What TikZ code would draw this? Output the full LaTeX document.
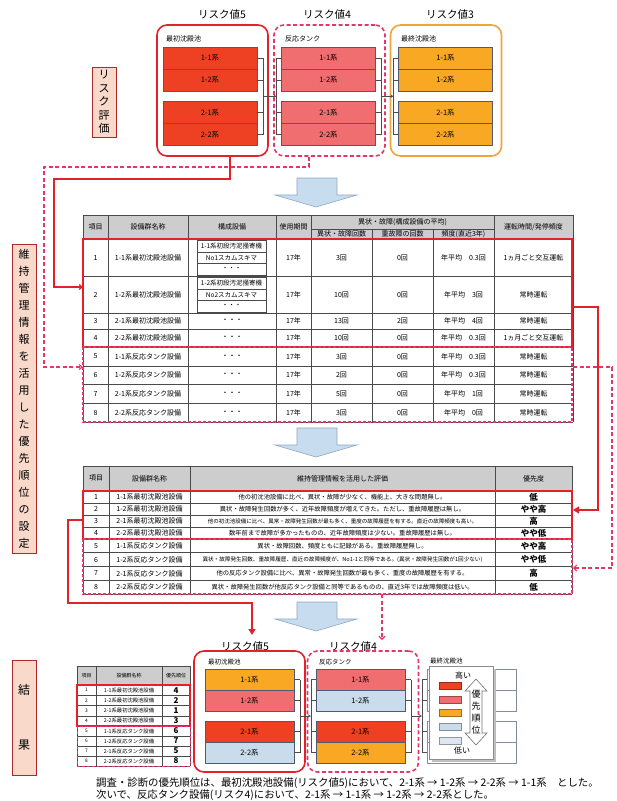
\documentclass[tikz,border=0pt]{standalone}
\usepackage{fontspec}
\setmainfont{Noto Sans CJK JP}
\usepackage{tikz}
\usetikzlibrary{arrows.meta,positioning,calc}

\definecolor{riskred}{HTML}{EE4123}
\definecolor{risksalmon}{HTML}{F06D70}
\definecolor{riskorange}{HTML}{F8A823}
\definecolor{risklblue}{HTML}{C8DCEC}
\definecolor{riskpale}{HTML}{DEE7F1}
\definecolor{markred}{HTML}{E3212B}
\definecolor{markpink}{HTML}{E5366A}
\definecolor{boxorange}{HTML}{F2A33A}
\definecolor{barline}{HTML}{4E5B70}
\definecolor{labelfill}{HTML}{F8D9CA}
\definecolor{labelline}{HTML}{B0282A}
\definecolor{flowfill}{HTML}{C7DDEF}
\definecolor{flowline}{HTML}{8FA8BF}
\definecolor{headfill}{HTML}{CDCDCD}
\definecolor{gridline}{HTML}{4A4A4A}

\newcommand{\fsz}[1]{\fontsize{#1}{#1}\selectfont}

\begin{document}
\begin{tikzpicture}[x=1pt,y=-1pt,
  title/.style={font=\fsz{10.5}},
  grplabel/.style={anchor=west,inner sep=0pt,font=\fsz{7}},
  grpbox/.style={rounded corners=10pt,line width=1.6pt,minimum width=111pt,minimum height=131pt},
  bar/.style={draw=barline,line width=0.7pt,minimum width=94pt,minimum height=22pt,inner sep=0pt,outer sep=0pt,font=\fsz{7.5}},
  link/.style={draw=black!70,line width=0.6pt},
  vlabel/.style={draw=labelline,fill=labelfill,line width=0.8pt,minimum width=24pt,align=center,inner sep=0pt},
  grid/.style={draw=gridline,line width=0.6pt},
  cell/.style={inner sep=0pt,font=\fsz{7}},
  hlred/.style={draw=markred,line width=1.5pt},
  hlpink/.style={draw=markpink,line width=1.2pt,dash pattern=on 3pt off 2pt},
  redline/.style={draw=markred,line width=1.2pt},
  pinkline/.style={draw=markpink,line width=1.1pt,dash pattern=on 4pt off 2.5pt},
  flow/.style={fill=flowfill,draw=flowline,line width=0.6pt,line join=miter},
  swatch/.style={minimum width=22pt,minimum height=7pt,inner sep=0pt,line width=0.6pt},
]
\useasboundingbox (0,0) rectangle (617,801);

% side labels
\node[vlabel,minimum height=70pt,font=\fontsize{11}{13.5}\selectfont] (lab1) at (104,102) {リ\\ス\\ク\\評\\価};
\node[vlabel,minimum height=309pt,font=\fontsize{11}{17}\selectfont] (lab2) at (24,398.5) {維\\持\\管\\理\\情\\報\\を\\活\\用\\し\\た\\優\\先\\順\\位\\の\\設\\定};
\node[vlabel,minimum height=115pt,font=\fontsize{12}{55}\selectfont] (lab3) at (24,717.5) {結\\果};

% risk values
\node[title] (tt5) at (222,15) {リスク値5};
\node[title] (tt4) at (327,15) {リスク値4};
\node[title] (tt3) at (450,15) {リスク値3};
\node[grpbox,draw=markred] (g5) at (212.5,90.5) {};
\node[grpbox,draw=markpink,dash pattern=on 4pt off 2.5pt] (g4) at (329.5,90.5) {};
\node[grpbox,draw=boxorange] (g3) at (446,90.5) {};
\node[grplabel] (gl5) at (166,39) {最初沈殿池};
\node[grplabel] (gl4) at (285,39) {反応タンク};
\node[grplabel] (gl3) at (401,39) {最終沈殿池};
\foreach \g/\gx/\c in {5/210/riskred,4/328.5/risksalmon,3/445.5/riskorange}
  \foreach \b/\by/\l in {a/58/1-1系,b/80/1-2系,c/112.5/2-1系,d/134.5/2-2系}
    \node[bar,fill=\c] (t\g\b) at (\gx,\by) {\l};

% results
\node[title] (rt5) at (245,646) {リスク値5};
\node[title] (rt4) at (353,646) {リスク値4};
\node[grpbox,draw=markred,minimum height=121pt] (h5) at (249.5,711.5) {};
\node[grpbox,draw=markpink,dash pattern=on 4pt off 2.5pt,minimum height=121pt] (h4) at (363,711.5) {};
\node[grplabel,font=\fsz{6.5}] (hl5) at (208,662) {最初沈殿池};
\node[grplabel,font=\fsz{6.5}] (hl4) at (319,662) {反応タンク};
\node[grplabel,font=\fsz{6.5}] (hl3) at (430,661) {最終沈殿池};
\foreach \g/\gx/\ca/\cb/\cc/\cd in {5/249.5/riskorange/risksalmon/riskred/risklblue,
    4/360.5/risksalmon/risklblue/riskred/riskorange}{
  \node[bar,minimum width=89pt,minimum height=21pt,fill=\ca] (r\g a) at (\gx,679.5) {1-1系};
  \node[bar,minimum width=89pt,minimum height=21pt,fill=\cb] (r\g b) at (\gx,700.5) {1-2系};
  \node[bar,minimum width=89pt,minimum height=21pt,fill=\cc] (r\g c) at (\gx,731.5) {2-1系};
  \node[bar,minimum width=89pt,minimum height=21pt,fill=\cd] (r\g d) at (\gx,752.5) {2-2系};
}
\foreach \b/\by in {a/679.5,b/700.5,c/731.5,d/752.5}
  \node[bar,minimum width=89pt,minimum height=21pt,fill=white,draw=barline!70] (r3\b) at (471.5,\by) {};

% brackets between groups
\foreach \p/\q in {t5/t4,t4/t3,r5/r4,r4/r3}{
  \foreach \b in {a,b,c,d}{
    \draw[link] (\p\b.east) -- ++(6,0);
    \draw[link] (\q\b.west) -- ++(-5,0);
  }
  \draw[link] ($(\p a.east)+(6,0)$) -- ($(\p d.east)+(6,0)$);
  \draw[link] ($(\q a.west)+(-5,0)$) -- ($(\q d.west)+(-5,0)$);
  \draw[link,-{Stealth[length=3pt,width=3pt]}] ($(\p a.east)!0.5!(\p d.east)+(6,0)$) -- ($(\q a.west)!0.5!(\q d.west)+(-5,0)$);
}

% legend
\fill[black!25] (432,669) rectangle (496,762);
\node[draw=black!45,fill=white,line width=0.6pt,minimum width=64pt,minimum height=93pt] (key) at (461,712.5) {};
\node[font=\fsz{8},inner sep=0pt] (khi) at (463,675) {高い};
\node[font=\fsz{8},inner sep=0pt] (klo) at (462,750) {低い};
\foreach \k/\ky/\c in {1/685.5/riskred,2/699.5/risksalmon,3/712.5/riskorange,4/726.5/risklblue,5/740.5/riskpale}
  \node[swatch,fill=\c,draw=\c!65!black] (k\k) at (450,\ky) {};
\draw[fill=white,draw=black!55,line width=0.6pt] (476,679) -- (487,691) -- (482,691) -- (482,733) -- (487,733) -- (476,745) -- (465,733) -- (470,733) -- (470,691) -- (465,691) -- cycle;
\node[align=center,inner sep=0pt,font=\fontsize{9}{12}\selectfont] (kar) at (476,712) {優\\先\\順\\位};

% flow arrows
\foreach \y in {178,428,602}
  \draw[flow] (297,\y) -- (337,\y) -- (337,\y+17) -- (357,\y+17) -- (316,\y+29) -- (275,\y+17) -- (297,\y+17) -- cycle;

% table 1
\fill[headfill] (83,215) rectangle (573,239);
\foreach \y in {215,239,276,313,329,347,366,384,403,422} \draw[grid] (83,\y) -- (573,\y);
\draw[grid] (311,229) -- (494,229);
\foreach \x in {83,108,188,276,311,494,573} \draw[grid] (\x,215) -- (\x,422);
\foreach \x in {372,433} \draw[grid] (\x,229) -- (\x,422);
\node[cell] (ha1) at (95.5,227) {項目};
\node[cell] (ha2) at (148,227) {設備群名称};
\node[cell] (ha3) at (232,227) {構成設備};
\node[cell] (ha4) at (293.5,227) {使用期間};
\node[cell] (ha5) at (402.5,222) {異状・故障(構成設備の平均)};
\node[cell] (ha6) at (341.5,234) {異状・故障回数};
\node[cell] (ha7) at (402.5,234) {重故障の回数};
\node[cell] (ha8) at (463.5,234) {頻度(直近3年)};
\node[cell] (ha9) at (533.5,227) {運転時間/発停頻度};
\foreach \i/\y/\nm/\cnt/\hv/\fq/\op in {
  1/257.5/1-1系最初沈殿池設備/3回/0回/0.3回/1ヵ月ごと交互運転,
  2/294.5/1-2系最初沈殿池設備/10回/0回/3回/常時運転,
  3/321/2-1系最初沈殿池設備/13回/2回/4回/常時運転,
  4/338/2-2系最初沈殿池設備/10回/0回/0.3回/1ヵ月ごと交互運転,
  5/356.5/1-1系反応タンク設備/3回/0回/0.3回/常時運転,
  6/375/1-2系反応タンク設備/2回/0回/0.3回/常時運転,
  7/393.5/2-1系反応タンク設備/5回/0回/1回/常時運転,
  8/412.5/2-2系反応タンク設備/3回/0回/0回/常時運転}{
  \node[cell] (na\i) at (95.5,\y) {\i};
  \node[cell] (nb\i) at (148,\y) {\nm};
  \node[cell] (nd\i) at (293.5,\y) {17年};
  \node[cell] (ne\i) at (341.5,\y) {\cnt};
  \node[cell] (nf\i) at (402.5,\y) {\hv};
  \node[cell] (ng\i) at (463.5,\y) {年平均\quad\fq};
  \node[cell] (nh\i) at (533.5,\y) {\op};
}
\foreach \y [count=\k from 3] in {321,338,356.5,375,393.5,412.5}
  \node[cell] (nc\k) at (232,\y) {・・・};
\foreach \r/\ty/\u/\v in {1/240.5/1-1系初段汚泥掻寄機/No1スカムスキマ,2/277.5/1-2系初段汚泥掻寄機/No2スカムスキマ}{
  \draw[grid] (197,\ty) rectangle (266,\ty+34.5);
  \draw[grid] (197,\ty+11.5) -- (266,\ty+11.5);
  \draw[grid] (197,\ty+23) -- (266,\ty+23);
  \node[cell,font=\fsz{6.5}] (sa\r) at (231.5,\ty+5.75) {\u};
  \node[cell,font=\fsz{6.5}] (sb\r) at (231.5,\ty+17.25) {\v};
  \node[cell,font=\fsz{6.5}] (sc\r) at (231.5,\ty+28.75) {・・・};
}
\draw[hlred] (83,239) rectangle (572,347);
\draw[hlpink] (83,347) rectangle (572,422);

% table 2
\fill[headfill] (83,466) rectangle (572,491);
\foreach \y in {466,491,503,515,527,539,552.75,566.5,580.25,594} \draw[grid] (83,\y) -- (572,\y);
\foreach \x in {83,109,190,495,572} \draw[grid] (\x,466) -- (\x,594);
\node[cell] (hb1) at (96,478.5) {項目};
\node[cell] (hb2) at (149.5,478.5) {設備群名称};
\node[cell] (hb3) at (342.5,478.5) {維持管理情報を活用した評価};
\node[cell] (hb4) at (533.5,478.5) {優先度};
\foreach \i/\y/\nm/\ev/\pr/\s in {
  1/497/1-1系最初沈殿池設備/{他の初沈池設備に比べ、異状・故障が少なく、機能上、大きな問題無し。}/低/6.3,
  2/509/1-2系最初沈殿池設備/{異状・故障発生回数が多く、近年故障頻度が増えてきた。ただし、重故障履歴は無し。}/やや高/6.3,
  3/521/2-1系最初沈殿池設備/{他の初沈池設備に比べ、異常・故障発生回数が最も多く、重度の故障履歴を有する。直近の故障頻度も高い。}/高/5.5,
  4/533/2-2系最初沈殿池設備/{数年前まで故障が多かったものの、近年故障頻度は少ない。重故障履歴は無し。}/やや低/6.3,
  5/545.9/1-1系反応タンク設備/{異状・故障回数、頻度ともに記録がある。重故障履歴無し。}/やや高/6.3,
  6/559.6/1-2系反応タンク設備/{異状・故障発生回数、重故障履歴、直近の故障頻度が、No1-1と同等である。(異状・故障発生回数が1回少ない)}/やや低/5.6,
  7/573.4/2-1系反応タンク設備/{他の反応タンク設備に比べ、異常・故障発生回数が最も多く、重度の故障履歴を有する。}/高/6.3,
  8/587.1/2-2系反応タンク設備/{異状・故障発生回数が他反応タンク設備と同等であるものの、直近3年では故障頻度は低い。}/低/6.3}{
  \node[cell] (ma\i) at (96,\y) {\i};
  \node[cell] (mb\i) at (149.5,\y) {\nm};
  \node[cell,font=\fsz{\s}] (mc\i) at (342.5,\y) {\ev};
  \node[cell,font=\bfseries\fsz{8.5}] (md\i) at (533.5,\y) {\pr};
}
\draw[hlred] (83,491) rectangle (572,539);
\draw[hlpink] (83,539) rectangle (572,594);

% result table
\fill[headfill] (77,666) rectangle (190,685);
\foreach \y in {666,685,695.25,705.5,715.75,726,736,746,756,766} \draw[grid,line width=0.5pt] (77,\y) -- (190,\y);
\foreach \x in {77,96,162,190} \draw[grid,line width=0.5pt] (\x,666) -- (\x,766);
\node[cell,font=\fsz{5}] (hc1) at (86.5,675.5) {項目};
\node[cell,font=\fsz{5}] (hc2) at (129,675.5) {設備群名称};
\node[cell,font=\fsz{5}] (hc3) at (176,675.5) {優先順位};
\foreach \i/\y/\nm/\pr in {1/690.1/1-1系最初沈殿池設備/4,2/700.4/1-2系最初沈殿池設備/2,3/710.6/2-1系最初沈殿池設備/1,4/720.9/2-2系最初沈殿池設備/3,
  5/731/1-1系反応タンク設備/6,6/741/1-2系反応タンク設備/7,7/751/2-1系反応タンク設備/5,8/761/2-2系反応タンク設備/8}{
  \node[cell,font=\fsz{4.8}] (la\i) at (86.5,\y) {\i};
  \node[cell,font=\fsz{5.3}] (lb\i) at (129,\y) {\nm};
  \node[cell,font=\bfseries\fsz{8}] (lc\i) at (176,\y) {\pr};
}
\draw[hlred,line width=1.2pt] (77,685) rectangle (190,726);
\draw[hlpink,line width=1pt] (77,726) rectangle (190,766);

% connectors
\coordinate (a1) at ($(g5.south)+(17.5,0)$);
\coordinate (a2) at ($(g4.south)+(-20.5,0)$);
\coordinate (in1) at (83,287);
\coordinate (in2) at (83,367);
\draw[redline,-{Straight Barb[length=3pt,width=5pt]}] (a1) |- (54,179) |- (in1);
\draw[pinkline,-{Straight Barb[length=3pt,width=5pt]}] (a2) |- (44,167) |- (in2);
\coordinate (b1) at (573,307);
\coordinate (b2) at (573,367);
\coordinate (in3) at (573,510);
\coordinate (in4) at (573,568);
\draw[redline,-{Triangle[length=6pt,width=7pt]}] (b1) -| (598,510) -- (in3);
\draw[pinkline,-{Straight Barb[length=3pt,width=6pt]}] (b2) -| (612,568) -- (in4);
\coordinate (c1) at (83,520);
\coordinate (c2) at (382,594);
\coordinate (in5) at (252,635);
\coordinate (in6) at (382,640);
\draw[redline,-{Triangle[length=6pt,width=7pt]}] (c1) -| (68,603) -| (in5);
\draw[pinkline,-{Straight Barb[length=3pt,width=6pt]}] (c2) -- (in6);

% conclusion
\node[anchor=west,inner sep=0pt,font=\fsz{10.4}] (con1) at (96,783) {調査・診断の優先順位は、最初沈殿池設備(リスク値5)において、2-1系 → 1-2系 → 2-2系 → 1-1系　とした。};
\node[anchor=west,inner sep=0pt,font=\fsz{10.4}] (con2) at (96,795) {次いで、反応タンク設備(リスク4)において、2-1系 → 1-1系 → 1-2系 → 2-2系とした。};
\end{tikzpicture}
\end{document}
